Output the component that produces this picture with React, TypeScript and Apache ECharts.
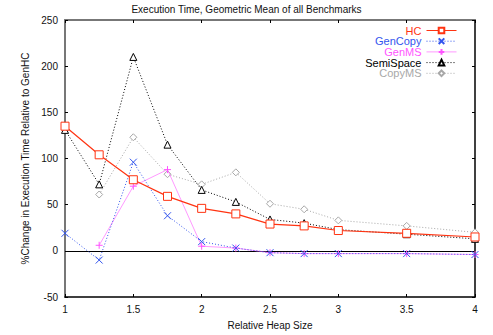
import React, { useEffect, useRef } from "react";
import * as echarts from "echarts";

const heapSizes = [1, 1.25, 1.5, 1.75, 2, 2.25, 2.5, 2.75, 3, 3.5, 4];
const seriesNames = ["HC", "GenCopy", "GenMS", "SemiSpace", "CopyMS"];
const hcValues = [135, 104, 77, 59, 46, 40, 29, 27, 22, 19, 15];
const genCopyValues = [19, -10, 96, 38, 10, 3, -2, -3, -3, -3, -4];
const genMSValues = [null, 6, 70, 88, 5, 3, -2, -3, -3, -3, -4];
const semiSpaceValues = [131, 72, 210, 115, 66, 53, 34, 30, 23, 18, 13];
const copyMSValues = [null, 61, 123, 83, 72, 85, 51, 45, 33, 27, 20];
const xTicks = [1, 1.5, 2, 2.5, 3, 3.5, 4];
const yTicks = [-50, 0, 50, 100, 150, 200, 250];

const FONT = "'Liberation Sans', Arial, Helvetica, sans-serif";
const colors = ["#ff3311", "#3355ee", "#ff55ff", "#000000", "#a8a8a8"];
const X_PATH = "path://M0,0L10,10M10,0L0,10";
const PLUS_PATH = "path://M5,0L5,10M0,5L10,5";

function pairs(vals: (number | null)[]) {
  return heapSizes.map((x, i) => [x, vals[i]]);
}

export default function App() {
  const ref = useRef<HTMLDivElement>(null);
  useEffect(() => {
    if (!ref.current) return;
    const chart = echarts.init(ref.current, null, { renderer: "svg" });
    const allVals = [hcValues, genCopyValues, genMSValues, semiSpaceValues, copyMSValues];
    const symbols = ["rect", X_PATH, PLUS_PATH, "triangle", "diamond"];
    const lineTypes: any[] = ["solid", [1, 2], "solid", [1, 2], [1, 2]];
    const lineOpacity = [1, 1, 0.6, 1, 1];
    const series: any[] = seriesNames.map((name, i) => ({
      name,
      type: "line",
      data: pairs(allVals[i]),
      connectNulls: false,
      symbol: symbols[i],
      symbolSize: i === 0 ? 8 : 7,
      showAllSymbol: true,
      lineStyle: { color: colors[i], width: i === 0 ? 1.2 : 1, type: lineTypes[i], opacity: lineOpacity[i] },
      itemStyle: {
        color: i === 1 || i === 2 ? colors[i] : "#fff",
        borderColor: colors[i],
        borderWidth: 1,
      },
      z: 10 - i,
    }));
    series.unshift({
      type: "line",
      data: [],
      silent: true,
      markLine: {
        silent: true,
        symbol: ["none", "none"],
        label: { show: false },
        lineStyle: { color: "#000", width: 1.2, type: "solid" },
        data: [{ yAxis: 0 }],
      },
    });
    const legends = seriesNames.map((n, i) => ({
      orient: "vertical",
      right: 31,
      top: 20 + i * 10.7,
      align: "right",
      itemWidth: 30,
      itemHeight: 7,
      lineStyle: { width: 1 },
      data: [{ name: n, textStyle: { color: colors[i] } }],
      textStyle: { fontSize: 11, fontFamily: FONT },
    }));
    chart.setOption({
      animation: false,
      textStyle: { fontFamily: FONT },
      title: {
        text: "Execution Time, Geometric Mean of all Benchmarks",
        left: "center",
        top: -1,
        textStyle: { fontSize: 10, fontWeight: "normal", color: "#111", fontFamily: FONT },
      },
      legend: legends,
      grid: { left: 65, right: 18, top: 20, bottom: 33, containLabel: false },
      xAxis: [
        {
          type: "value",
          min: 1,
          max: 4,
          interval: 0.5,
          name: "Relative Heap Size",
          nameLocation: "middle",
          nameGap: 23,
          nameTextStyle: { fontSize: 10, color: "#111" },
          axisLine: { onZero: false, lineStyle: { color: "#000", width: 1.5 } },
          axisTick: { inside: true, length: 3, lineStyle: { color: "#000" } },
          axisLabel: { fontSize: 10, color: "#111", margin: 7, formatter: (v: number) => (xTicks.includes(v) ? String(v) : "") },
          splitLine: { show: false },
        },
        {
          type: "value",
          position: "top",
          min: 1,
          max: 4,
          interval: 0.5,
          axisLine: { onZero: false, lineStyle: { color: "#777", width: 2 } },
          axisTick: { inside: true, length: 3, lineStyle: { color: "#000" } },
          axisLabel: { show: false },
          splitLine: { show: false },
        },
      ],
      yAxis: [
        {
          type: "value",
          min: -50,
          max: 250,
          interval: 50,
          name: "%Change in Execution Time Relative to GenHC",
          nameLocation: "middle",
          nameGap: 34,
          nameTextStyle: { fontSize: 10, color: "#111" },
          axisLine: { onZero: false, lineStyle: { color: "#777", width: 2 } },
          axisTick: { inside: true, length: 3, lineStyle: { color: "#000" } },
          axisLabel: { fontSize: 10, color: "#111", margin: 7, formatter: (v: number) => (yTicks.includes(v) ? String(v) : "") },
          splitLine: { show: false },
        },
        {
          type: "value",
          position: "right",
          min: -50,
          max: 250,
          interval: 50,
          axisLine: { onZero: false, lineStyle: { color: "#000", width: 1.5 } },
          axisTick: { inside: true, length: 3, lineStyle: { color: "#000" } },
          axisLabel: { show: false },
          splitLine: { show: false },
        },
      ],
      series,
    });
    return () => chart.dispose();
  }, []);
  return <div ref={ref} style={{ width: 493, height: 335, position: "absolute", left: 0, top: 0 }} />;
}
